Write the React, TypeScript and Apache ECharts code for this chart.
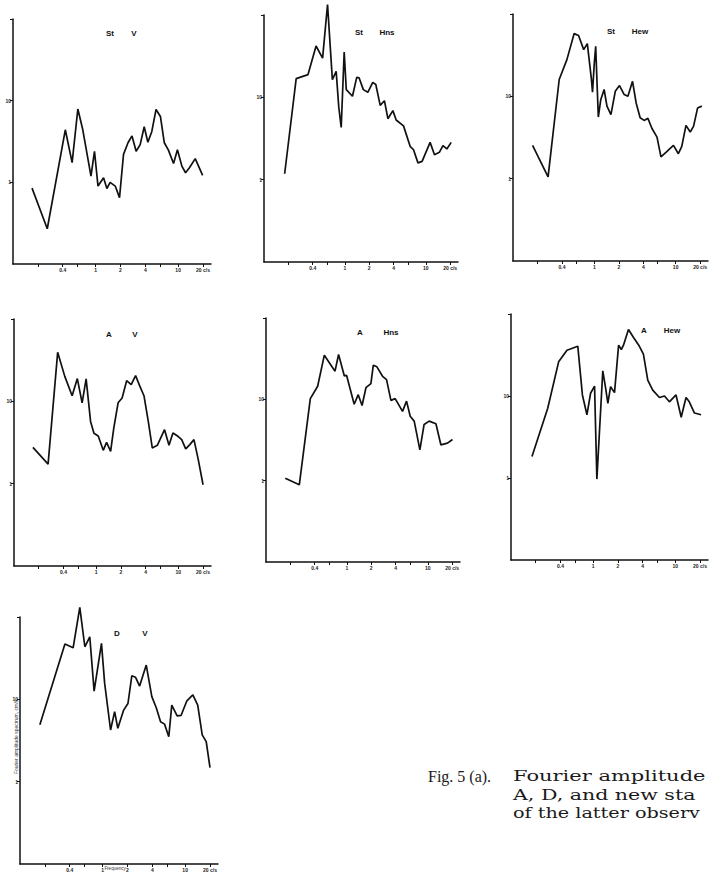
import React, { useEffect, useRef } from "react";
import * as echarts from "echarts";

// ---- tick values / labels (frequency in c/s, amplitude) ----
const xTickValues = [0.2, 0.4, 0.6, 1, 2, 4, 6, 10, 20];
const xLabelValues = [0.4, 1, 2, 4, 10, 20];
const xLabelTexts = ["0.4", "1", "2", "4", "10", "20 c/s"];
const yTickValues = [1, 10, 100];
const yLabelValues = [1, 10];
const yLabelTexts = ["1", "10"];

// ---- St  V ----
const stVFreq = [0.17, 0.26, 0.43, 0.52, 0.61, 0.7, 0.88, 0.97, 1.07, 1.25, 1.37, 1.5, 1.73, 1.95, 2.18, 2.47, 2.76, 3.1, 3.47, 3.88, 4.3, 4.8, 5.4, 6.1, 6.8, 7.6, 8.8, 9.8, 11.1, 12.3, 13.7, 16.1, 19.8];
const stVAmp = [0.85, 0.27, 4.4, 1.74, 7.9, 4.4, 1.19, 2.4, 0.9, 1.14, 0.84, 1.0, 0.9, 0.65, 2.2, 3.05, 3.7, 2.4, 2.9, 4.8, 3.1, 4.2, 7.8, 6.4, 3.05, 2.5, 1.7, 2.5, 1.58, 1.31, 1.51, 1.95, 1.22];

// ---- St  Hns ----
const stNsFreq = [0.18, 0.25, 0.35, 0.44, 0.53, 0.61, 0.7, 0.78, 0.84, 0.9, 0.98, 1.04, 1.24, 1.4, 1.5, 1.69, 1.92, 2.21, 2.41, 2.73, 3.08, 3.4, 3.92, 4.3, 5.3, 6.4, 7.05, 8.0, 9.0, 11.3, 12.8, 14.7, 16.3, 18.2, 20.6];
const stNsAmp = [1.18, 16.9, 18.9, 42, 30, 134, 16.4, 20.7, 7.6, 4.3, 35.6, 12.4, 10.3, 17.5, 17.2, 12.4, 11.5, 15.2, 14.3, 8.0, 9.1, 5.5, 6.9, 5.3, 4.5, 2.54, 2.31, 1.6, 1.67, 2.84, 2.01, 2.15, 2.59, 2.36, 2.84];

// ---- St  Hew ----
const stEwFreq = [0.174, 0.27, 0.37, 0.46, 0.565, 0.64, 0.74, 0.82, 0.92, 0.95, 1.0, 1.04, 1.08, 1.12, 1.2, 1.32, 1.43, 1.6, 1.81, 2.04, 2.33, 2.59, 2.95, 3.27, 3.66, 4.1, 4.56, 5.1, 5.9, 6.6, 7.6, 9.4, 10.8, 11.9, 13.4, 15.1, 16.6, 18.6, 21.0];
const stEwAmp = [2.54, 1.05, 16, 27.9, 57.8, 54.7, 36.9, 43.7, 16.3, 11.2, 25.5, 40.5, 14.5, 5.6, 9.1, 12.1, 7.6, 6.0, 11.5, 13.5, 10.5, 10.0, 15.2, 8.3, 5.5, 5.1, 5.4, 4.1, 3.2, 1.84, 2.09, 2.54, 2.01, 2.47, 4.44, 3.69, 4.32, 7.2, 7.6];

// ---- A  V ----
const aVFreq = [0.17, 0.26, 0.34, 0.415, 0.51, 0.59, 0.675, 0.755, 0.855, 0.94, 1.06, 1.22, 1.34, 1.5, 1.64, 1.85, 2.07, 2.35, 2.67, 3.02, 3.38, 3.82, 4.31, 4.82, 5.55, 6.8, 7.7, 8.6, 9.9, 11.0, 12.3, 13.8, 15.5, 17.5, 20.0];
const aVAmp = [2.76, 1.73, 39.4, 20.1, 11.7, 18.9, 9.6, 18.7, 5.7, 4.1, 3.8, 2.54, 3.18, 2.47, 4.75, 9.6, 11.0, 17.8, 16.0, 20.5, 15.5, 11.7, 5.7, 2.72, 2.92, 4.53, 2.92, 4.13, 3.76, 3.43, 2.64, 2.98, 3.43, 1.96, 0.97];

// ---- A  Hns ----
const aNsFreq = [0.173, 0.258, 0.353, 0.435, 0.526, 0.713, 0.789, 0.93, 0.99, 1.23, 1.38, 1.54, 1.72, 1.98, 2.12, 2.35, 2.76, 3.09, 3.5, 3.95, 4.87, 5.46, 6.06, 6.79, 7.98, 9.0, 10.4, 12.6, 14.5, 17.5, 20.2];
const aNsAmp = [1.07, 0.89, 10.2, 14.5, 34.9, 22.2, 35.6, 19.4, 19.8, 8.7, 11.4, 8.4, 13.9, 15.6, 26.3, 25.1, 19.2, 17.5, 9.7, 10.2, 7.1, 9.5, 6.2, 5.4, 2.39, 4.91, 5.4, 5.0, 2.76, 2.89, 3.21];

// ---- A  Hew ----
const aEwFreq = [0.18, 0.28, 0.38, 0.48, 0.65, 0.74, 0.84, 0.93, 1.04, 1.11, 1.31, 1.42, 1.51, 1.63, 1.82, 2.04, 2.2, 2.34, 2.69, 3.1, 3.59, 4.09, 4.62, 5.31, 6.41, 7.38, 8.47, 10.2, 11.8, 13.5, 14.8, 17.1, 20.6];
const aEwAmp = [1.83, 7.1, 26.1, 36.2, 40.5, 10.3, 5.9, 10.8, 13.2, 0.97, 20.3, 12.4, 8.15, 13.0, 11.0, 41.7, 36.9, 41.7, 64.6, 51.6, 41.7, 32.4, 15.6, 11.8, 9.6, 10.0, 8.5, 10.3, 5.5, 9.6, 8.5, 6.2, 5.9];

// ---- D  V ----
const dVFreq = [0.174, 0.35, 0.44, 0.53, 0.61, 0.7, 0.79, 0.97, 1.06, 1.25, 1.4, 1.53, 1.8, 2.03, 2.26, 2.51, 2.81, 3.38, 3.95, 4.47, 5.04, 5.63, 6.34, 6.89, 8.0, 8.95, 10.5, 12.4, 14.2, 16.1, 18.0, 20.0];
const dVAmp = [4.9, 46.9, 42.3, 131, 43.5, 57.5, 12.6, 47.8, 15.6, 4.24, 7.1, 4.45, 7.4, 8.9, 19.3, 18.5, 14.5, 26.1, 10.8, 7.9, 5.35, 5.0, 3.52, 8.5, 6.3, 6.4, 9.6, 11.3, 8.5, 3.7, 3.06, 1.48];

const panelStations = ["St", "St", "St", "A", "A", "A", "D"];
const panelComponents = ["V", "Hns", "Hew", "V", "Hns", "Hew", "V"];
const panelFreqs = [stVFreq, stNsFreq, stEwFreq, aVFreq, aNsFreq, aEwFreq, dVFreq];
const panelAmps = [stVAmp, stNsAmp, stEwAmp, aVAmp, aNsAmp, aEwAmp, dVAmp];

// caption (visible part of the printed caption; the page edge cuts it)
const captionLead = "Fig. 5 (a).";
const captionLines = ["Fourier amplitude", "A, D, and new sta", "of the latter observ"];
const captionStretch = [1.4, 1.37, 1.28];

// layout (pixels): grid left/top/width/height and title position
const layouts = [
  { left: 13, top: 19, width: 198, height: 245, tx: 110, tv: 134, ty: 33 },
  { left: 264, top: 15, width: 194, height: 247, tx: 359, tv: 387, ty: 32 },
  { left: 513, top: 14, width: 195, height: 247, tx: 611, tv: 640, ty: 31 },
  { left: 14, top: 319, width: 197, height: 247, tx: 109, tv: 135, ty: 334 },
  { left: 266, top: 318, width: 194, height: 244, tx: 360, tv: 391, ty: 332 },
  { left: 511, top: 314, width: 197, height: 246, tx: 644, tv: 672, ty: 330 },
  { left: 20, top: 617, width: 198, height: 247, tx: 117, tv: 145, ty: 633 },
];

const INK = "#111";

function labelFor(values: number[], texts: string[], v: number) {
  const k = values.findIndex((t) => Math.abs(t - v) / t < 1e-4);
  return k >= 0 ? texts[k] : "";
}

export default function App() {
  const ref = useRef<HTMLDivElement>(null);

  useEffect(() => {
    if (!ref.current) return;
    const chart = echarts.init(ref.current, undefined, { renderer: "svg" });

    const grid = layouts.map((l) => ({
      left: l.left,
      top: l.top,
      width: l.width,
      height: l.height,
      containLabel: false,
    }));

    const xAxis = layouts.map((_, i) => ({
      type: "log",
      gridIndex: i,
      logBase: 10,
      min: 0.1,
      max: 25,
      axisLine: { show: true, onZero: false, lineStyle: { color: INK, width: 1.5 } },
      axisTick: {
        show: true,
        customValues: xTickValues,
        length: 3,
        lineStyle: { color: INK, width: 1 },
      },
      axisLabel: {
        show: true,
        customValues: xLabelValues,
        formatter: (v: number) => labelFor(xLabelValues, xLabelTexts, v),
        fontSize: 5,
        fontWeight: "bold",
        color: "#222",
        margin: 3,
        fontFamily: "Liberation Sans",
      },
      splitLine: { show: false },
      minorTick: { show: false },
    }));

    const yAxis = layouts.map((_, i) => ({
      type: "log",
      gridIndex: i,
      logBase: 10,
      min: 0.1,
      max: 100,
      axisLine: { show: true, onZero: false, lineStyle: { color: INK, width: 1.5 } },
      axisTick: {
        show: true,
        customValues: yTickValues,
        length: 3,
        lineStyle: { color: INK, width: 1 },
      },
      axisLabel: {
        show: true,
        customValues: yLabelValues,
        formatter: (v: number) => labelFor(yLabelValues, yLabelTexts, v),
        fontSize: 5,
        fontWeight: "bold",
        color: "#222",
        margin: 2,
        fontFamily: "Liberation Sans",
      },
      splitLine: { show: false },
      minorTick: { show: false },
    }));

    const series = panelFreqs.map((freqs, i) => ({
      type: "line",
      name: panelStations[i] + " " + panelComponents[i],
      xAxisIndex: i,
      yAxisIndex: i,
      data: freqs.map((f, j) => [f, panelAmps[i][j]]),
      showSymbol: false,
      symbol: "none",
      clip: false,
      silent: true,
      lineStyle: { color: INK, width: 1.7 },
    }));

    const titleStyle = {
      fill: "#111",
      fontSize: 8,
      fontWeight: "bold",
      fontFamily: "Liberation Sans",
      align: "center",
      verticalAlign: "middle",
    };

    const graphics: any[] = [];
    layouts.forEach((l, i) => {
      graphics.push({
        type: "text",
        x: l.tx,
        y: l.ty,
        style: { ...titleStyle, text: panelStations[i] },
      });
      graphics.push({
        type: "text",
        x: l.tv,
        y: l.ty,
        style: { ...titleStyle, text: panelComponents[i] },
      });
    });

    // axis names of the D panel
    graphics.push({
      type: "text",
      x: 16,
      y: 737,
      rotation: Math.PI / 2,
      style: {
        text: "Fourier amplitude spectrum, cm/s",
        fontSize: 5,
        fill: "#333",
        fontFamily: "Liberation Sans",
        align: "center",
        verticalAlign: "middle",
      },
    });
    graphics.push({
      type: "text",
      x: 115,
      y: 866,
      style: {
        text: "Frequency",
        fontSize: 4.5,
        fill: "#333",
        fontFamily: "Liberation Sans",
        align: "center",
        verticalAlign: "top",
      },
    });

    // caption
    const capStyle = {
      fill: "#1a1a1a",
      fontSize: 15,
      fontFamily: "DejaVu Serif",
      verticalAlign: "middle",
      align: "left",
    };
    graphics.push({ type: "text", x: 428, y: 776, style: { ...capStyle, fontFamily: "Liberation Serif", fontSize: 16, text: captionLead } });
    captionLines.forEach((t, k) => {
      graphics.push({ type: "text", x: 513, y: 776 + k * 18.5, scaleX: captionStretch[k], style: { ...capStyle, text: t } });
    });

    chart.setOption({
      animation: false,
      backgroundColor: "#ffffff",
      grid,
      xAxis,
      yAxis,
      series,
      graphic: graphics,
    });

    return () => chart.dispose();
  }, []);

  return (
    <div
      ref={ref}
      style={{ position: "absolute", left: 0, top: 0, width: 711, height: 872, background: "#fff" }}
    />
  );
}
